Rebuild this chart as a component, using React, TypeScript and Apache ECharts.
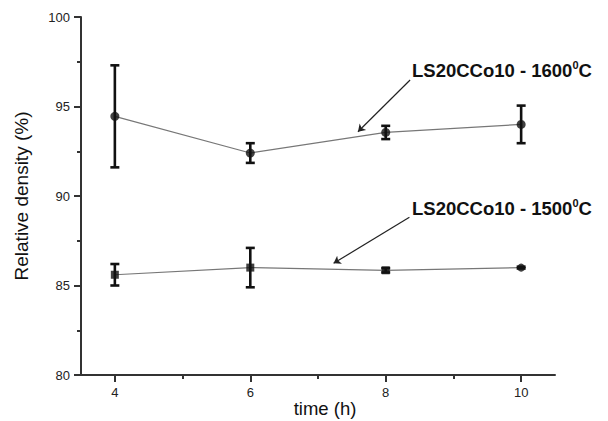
import React, { useEffect, useRef } from "react";
import * as echarts from "echarts";

const hours = [4, 6, 8, 10];
const density1600 = [94.45, 92.4, 93.55, 94.0];
const err1600 = [2.85, 0.55, 0.37, 1.05];
const density1500 = [85.6, 86.0, 85.85, 86.0];
const err1500 = [0.6, 1.1, 0.12, 0.05];
const symbols1500 = ["rect", "rect", "rect", "circle"];
const xTickValues = [4, 6, 8, 10];
const xMinorValues = [5, 7, 9];
const arrow1600 = [[8.36, 96.48], [7.59, 93.59]];
const arrow1500 = [[8.35, 88.81], [7.23, 86.24]];
const label1600 = ["LS20CCo10 - 1600", "0", "C"];
const label1500 = ["LS20CCo10 - 1500", "0", "C"];
const xAxisTitle = "time (h)";
const yAxisTitle = "Relative density (%)";

const FONT = "'Liberation Sans', Arial, Helvetica, sans-serif";

function errorSeries(means: number[], errs: number[]) {
  return {
    type: "custom",
    z: 4,
    silent: true,
    data: hours.map((h, i) => [h, means[i], errs[i]]),
    renderItem: (params: any, api: any) => {
      const x = api.value(0);
      const m = api.value(1);
      const e = api.value(2);
      const top = api.coord([x, m + e]);
      const bot = api.coord([x, m - e]);
      const hw = 4.5;
      const style = { stroke: "#111", lineWidth: 2.6 };
      return {
        type: "group",
        children: [
          { type: "line", shape: { x1: top[0], y1: top[1], x2: bot[0], y2: bot[1] }, style },
          { type: "line", shape: { x1: top[0] - hw, y1: top[1], x2: top[0] + hw, y2: top[1] }, style },
          { type: "line", shape: { x1: bot[0] - hw, y1: bot[1], x2: bot[0] + hw, y2: bot[1] }, style },
        ],
      };
    },
  };
}

function annotation(parts: string[], left: number, top: number) {
  return {
    type: "text",
    left,
    top,
    style: {
      text: `{a|${parts[0]}}{s|${parts[1]}}{a|${parts[2]}}`,
      rich: {
        a: { fontSize: 18.5, fontWeight: "bold", fontFamily: FONT, fill: "#111", lineHeight: 22 },
        s: { fontSize: 11, fontWeight: "bold", fontFamily: FONT, fill: "#111", verticalAlign: "top", lineHeight: 22, padding: [0, 0, 10, 0] },
      },
    },
  };
}

export default function App() {
  const ref = useRef<HTMLDivElement>(null);
  useEffect(() => {
    if (!ref.current) return;
    const chart = echarts.init(ref.current, undefined, { renderer: "svg" });
    const axisLine = { lineStyle: { color: "#333", width: 2 } };
    chart.setOption({
      animation: false,
      backgroundColor: "#fff",
      textStyle: { fontFamily: FONT },
      grid: { left: 81, right: 53, top: 17, bottom: 46, containLabel: false, outerBoundsMode: "none" },
      xAxis: [
        {
          type: "value",
          min: 3.5,
          max: 10.5,
          axisLine,
          splitLine: { show: false },
          axisTick: { show: true, length: 7, customValues: xTickValues, lineStyle: { color: "#333", width: 2 } },
          axisLabel: { customValues: xTickValues, fontSize: 13, color: "#222", margin: 11, fontFamily: FONT },
        },
        {
          type: "value",
          min: 3.5,
          max: 10.5,
          position: "bottom",
          gridIndex: 0,
          axisLine: { show: false },
          splitLine: { show: false },
          axisTick: { show: true, length: 4, customValues: xMinorValues, lineStyle: { color: "#333", width: 2 } },
          axisLabel: { show: false, customValues: xMinorValues },
        },
      ],
      yAxis: {
        type: "value",
        min: 80,
        max: 100,
        interval: 5,
        name: yAxisTitle,
        nameLocation: "middle",
        nameGap: 50,
        nameTextStyle: { fontSize: 19, color: "#111", fontFamily: FONT },
        axisLine: { show: true, lineStyle: { color: "#333", width: 2 } },
        splitLine: { show: false },
        axisTick: { show: true, length: 7, lineStyle: { color: "#333", width: 2 } },
        minorTick: { show: true, splitNumber: 2, length: 4, lineStyle: { color: "#333", width: 2 } },
        axisLabel: { fontSize: 13, color: "#222", margin: 11, fontFamily: FONT },
      },
      series: [
        {
          type: "line",
          data: hours.map((h, i) => [h, density1600[i]]),
          symbol: "none",
          lineStyle: { color: "#777", width: 1.2 },
          z: 2,
        },
        {
          type: "line",
          data: hours.map((h, i) => [h, density1500[i]]),
          symbol: "none",
          lineStyle: { color: "#777", width: 1.2 },
          z: 2,
        },
        errorSeries(density1600, err1600),
        errorSeries(density1500, err1500),
        {
          type: "scatter",
          data: hours.map((h, i) => [h, density1600[i]]),
          symbol: "circle",
          symbolSize: 9,
          itemStyle: { color: "#111" },
          z: 5,
        },
        {
          type: "scatter",
          data: hours.map((h, i) => ({ value: [h, density1500[i]], symbol: symbols1500[i] })),
          symbolSize: 8,
          itemStyle: { color: "#111" },
          z: 5,
        },
        {
          type: "lines",
          coordinateSystem: "cartesian2d",
          data: [{ coords: arrow1600 }, { coords: arrow1500 }],
          symbol: ["none", "arrow"],
          symbolSize: [4, 7],
          lineStyle: { color: "#222", width: 1.2, opacity: 1 },
          z: 6,
        },
      ],
      graphic: [
        annotation(label1600, 412, 59),
        annotation(label1500, 412, 197),
        {
          type: "text",
          x: 325,
          y: 418,
          style: {
            text: xAxisTitle,
            fontSize: 18.5,
            fontFamily: FONT,
            fill: "#111",
            align: "center",
            verticalAlign: "bottom",
          },
        },
      ],
    });
    return () => chart.dispose();
  }, []);
  return <div ref={ref} style={{ width: 608, height: 421, position: "absolute", left: 0, top: 0 }} />;
}
